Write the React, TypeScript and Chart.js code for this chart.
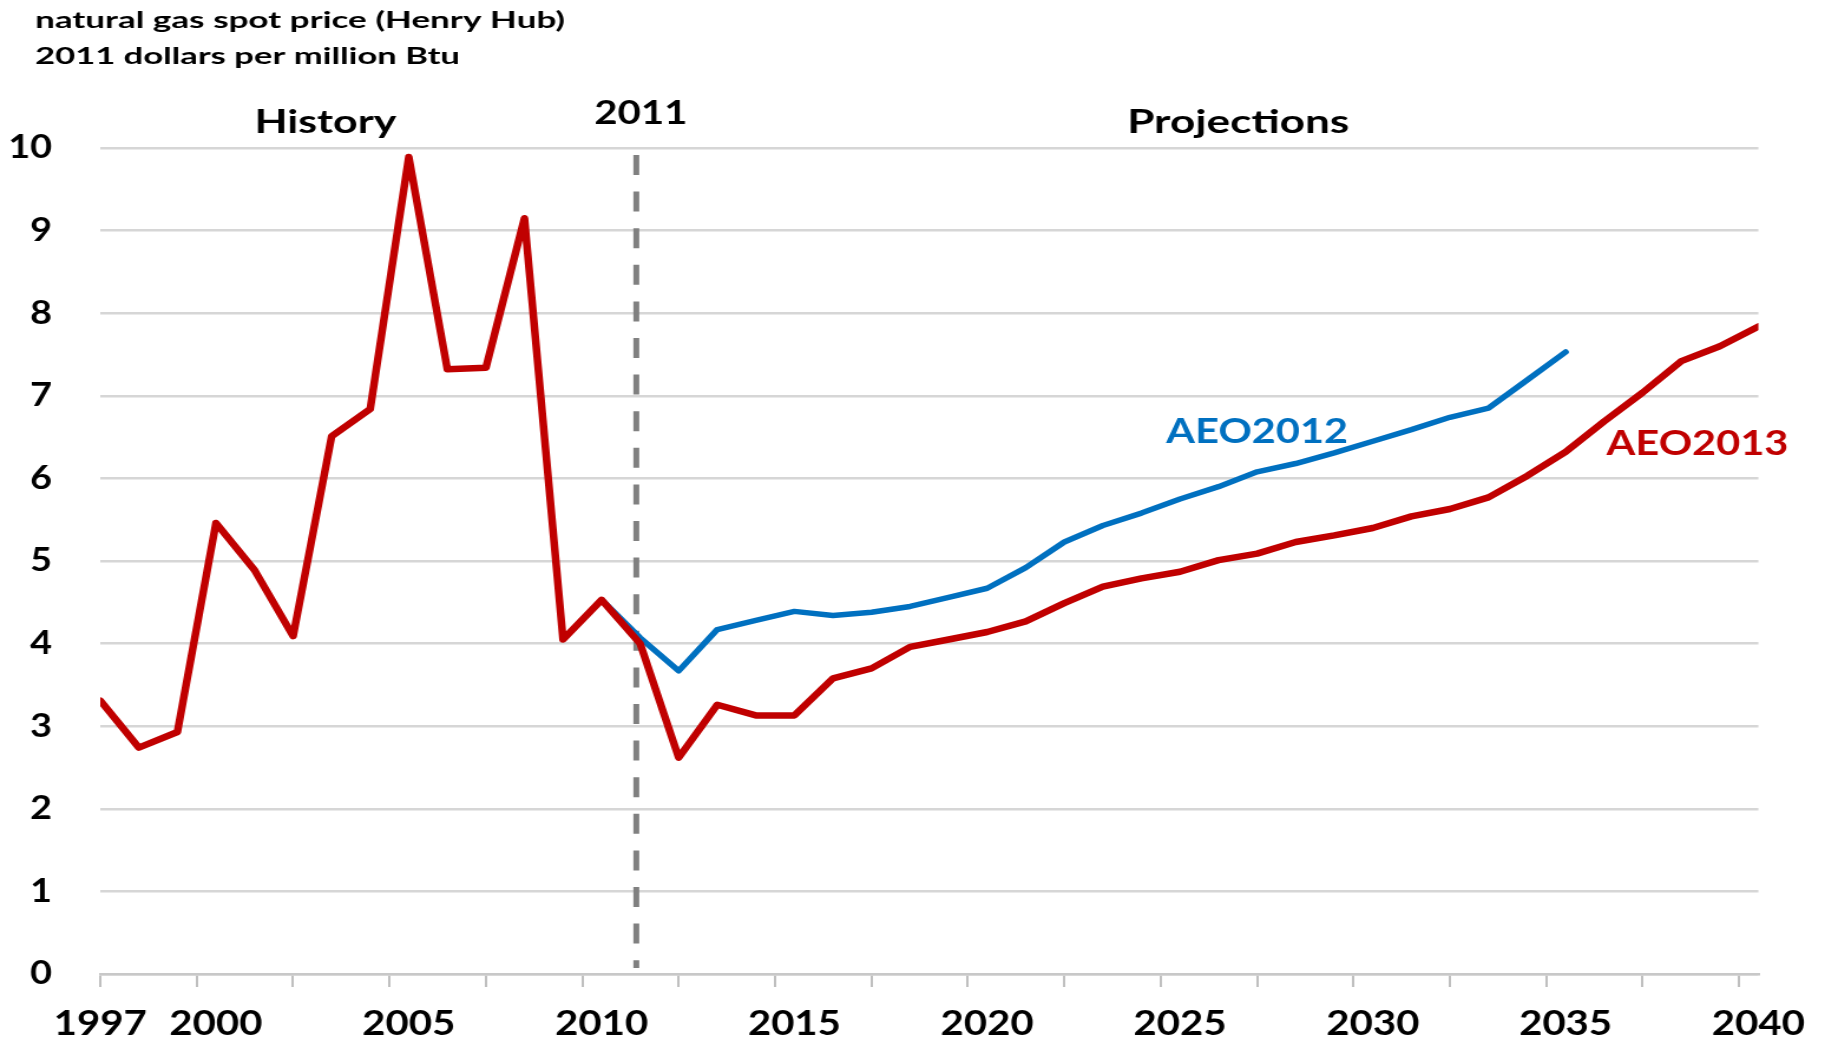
import React, { useEffect, useRef } from 'react';
import { Chart, registerables } from 'chart.js';

Chart.register(...registerables);

// ---- data ----
const aeo2013Years = [
  1997, 1998, 1999, 2000, 2001, 2002, 2003, 2004, 2005, 2006, 2007, 2008, 2009, 2010, 2011,
  2012, 2013, 2014, 2015, 2016, 2017, 2018, 2019, 2020, 2021, 2022, 2023, 2024, 2025, 2026,
  2027, 2028, 2029, 2030, 2031, 2032, 2033, 2034, 2035, 2036, 2037, 2038, 2039, 2040,
];
const aeo2013Values = [
  3.31, 2.74, 2.93, 5.46, 4.89, 4.09, 6.51, 6.84, 9.89, 7.32, 7.34, 9.15, 4.05, 4.53, 4.0,
  2.62, 3.26, 3.13, 3.13, 3.58, 3.7, 3.96, 4.05, 4.14, 4.27, 4.49, 4.69, 4.79, 4.87, 5.01,
  5.09, 5.23, 5.31, 5.4, 5.54, 5.63, 5.77, 6.03, 6.32, 6.69, 7.04, 7.42, 7.6, 7.84,
];
const aeo2012Years = [
  2010, 2011, 2012, 2013, 2014, 2015, 2016, 2017, 2018, 2019, 2020, 2021, 2022, 2023, 2024,
  2025, 2026, 2027, 2028, 2029, 2030, 2031, 2032, 2033, 2034, 2035,
];
const aeo2012Values = [
  4.53, 4.07, 3.67, 4.17, 4.28, 4.39, 4.34, 4.38, 4.45, 4.56, 4.67, 4.92, 5.23, 5.43, 5.58,
  5.75, 5.9, 6.08, 6.18, 6.31, 6.45, 6.59, 6.74, 6.85, 7.19, 7.53,
];
const xLabelYears = [1997, 2000, 2005, 2010, 2015, 2020, 2025, 2030, 2035, 2040];
const xTickMarkYears = [
  1997, 1999.5, 2002, 2004.5, 2007, 2009.5, 2012, 2014.5, 2017, 2019.5, 2022, 2024.5, 2027,
  2029.5, 2032, 2034.5, 2037, 2039.5,
];
const yTicks = [0, 1, 2, 3, 4, 5, 6, 7, 8, 9, 10];
const titleLines = ['natural gas spot price (Henry Hub)', '2011 dollars per million Btu'];
const dividerYear = 2010.9;
const dividerLabel = '2011';
const periodLabels = ['History', 'Projections'];
const seriesNames = ['AEO2013', 'AEO2012'];

const RED = '#C00000';
const BLUE = '#0070C0';
const FONT = 'Lato, "Open Sans", sans-serif';

const STRETCH = 1.18;
const FULL_W = 1825;
const FULL_H = 1042;
const W = Math.round(FULL_W / STRETCH);
const H = FULL_H;

// draw text scaled horizontally to a given width (width given in page pixels)
function drawFitted(
  ctx: CanvasRenderingContext2D,
  text: string,
  x: number,
  y: number,
  font: string,
  widthPage: number,
  align: CanvasTextAlign,
) {
  ctx.font = font;
  const w = ctx.measureText(text).width;
  const sx = widthPage / STRETCH / w;
  ctx.save();
  ctx.translate(x, y);
  ctx.scale(sx, 1);
  ctx.textAlign = align;
  ctx.textBaseline = 'alphabetic';
  ctx.fillText(text, 0, 0);
  ctx.restore();
}

const annotations = {
  id: 'annotations',
  beforeDatasetsDraw(chart: any) {
    const { ctx, scales } = chart;
    const px = scales.x.getPixelForValue(dividerYear);
    ctx.save();
    ctx.strokeStyle = '#808080';
    ctx.lineWidth = 5;
    ctx.setLineDash([20, 16.6]);
    ctx.beginPath();
    ctx.moveTo(px, 155);
    ctx.lineTo(px, 968);
    ctx.stroke();
    ctx.restore();
  },
  afterDatasetsDraw(chart: any) {
    const { ctx, scales } = chart;
    const x = scales.x;
    const y = scales.y;
    ctx.save();
    ctx.fillStyle = '#000';
    drawFitted(ctx, titleLines[0], 35 / STRETCH, 28, `bold 23px ${FONT}`, 530, 'left');
    drawFitted(ctx, titleLines[1], 35 / STRETCH, 64, `bold 23px ${FONT}`, 425, 'left');

    drawFitted(ctx, periodLabels[0], x.getPixelForValue(2002.84), 133, `bold 33px ${FONT}`, 142, 'center');
    drawFitted(ctx, periodLabels[1], x.getPixelForValue(2026.51), 133, `bold 33px ${FONT}`, 222, 'center');
    drawFitted(ctx, dividerLabel, x.getPixelForValue(2011.02), 123.5, `bold 33px ${FONT}`, 93, 'center');

    ctx.fillStyle = BLUE;
    drawFitted(ctx, seriesNames[1], x.getPixelForValue(2027.0), y.getPixelForValue(6.43), `bold 34px ${FONT}`, 182, 'center');
    ctx.fillStyle = RED;
    drawFitted(ctx, seriesNames[0], x.getPixelForValue(2038.42), y.getPixelForValue(6.28), `bold 34px ${FONT}`, 182, 'center');
    ctx.restore();
  },
};

export default function App() {
  const ref = useRef<HTMLCanvasElement | null>(null);

  useEffect(() => {
    if (!ref.current) return;
    const allTicks = Array.from(new Set([...xLabelYears, ...xTickMarkYears])).sort((a, b) => a - b);
    const chart = new Chart(ref.current, {
      type: 'line',
      data: {
        datasets: [
          {
            label: seriesNames[0],
            data: aeo2013Years.map((yr, i) => ({ x: yr, y: aeo2013Values[i] })),
            borderColor: RED,
            borderWidth: 6.5,
            pointRadius: 0,
            tension: 0,
            fill: false,
            borderJoinStyle: 'round',
            borderCapStyle: 'round',
          },
          {
            label: seriesNames[1],
            data: aeo2012Years.map((yr, i) => ({ x: yr, y: aeo2012Values[i] })),
            borderColor: BLUE,
            borderWidth: 5.5,
            pointRadius: 0,
            tension: 0,
            fill: false,
            borderJoinStyle: 'round',
            borderCapStyle: 'round',
          },
        ],
      },
      options: {
        animation: false,
        responsive: false,
        devicePixelRatio: 1,
        layout: { padding: { top: 148, right: 56, left: 0, bottom: 0 } },
        plugins: {
          legend: { display: false },
          tooltip: { enabled: false },
          title: { display: false },
        },
        scales: {
          x: {
            type: 'linear',
            min: 1997,
            max: 2040,
            afterBuildTicks: (scale: any) => {
              scale.ticks = allTicks.map((v) => ({ value: v }));
            },
            afterFit: (scale: any) => {
              scale.height = 68;
            },
            ticks: {
              autoSkip: false,
              maxRotation: 0,
              minRotation: 0,
              padding: 17,
              color: '#000',
              font: { family: FONT, size: 34, weight: 'bold' },
              callback: (v: any) => (xLabelYears.includes(Number(v)) ? String(v) : ''),
            },
            grid: {
              drawOnChartArea: false,
              drawTicks: true,
              tickLength: 13,
              lineWidth: 2,
              tickColor: (ctx: any) =>
                ctx.tick && xTickMarkYears.includes(ctx.tick.value) ? '#bfbfbf' : 'rgba(0,0,0,0)',
              color: 'rgba(0,0,0,0)',
            },
            border: { display: true, color: '#c8c8c8', width: 2.5 },
          },
          y: {
            min: 0,
            max: 10,
            afterBuildTicks: (scale: any) => {
              scale.ticks = yTicks.map((v) => ({ value: v }));
            },
            afterFit: (scale: any) => {
              scale.width = 85;
            },
            ticks: {
              padding: 41,
              color: '#000',
              font: { family: FONT, size: 32, weight: 'bold' },
            },
            grid: {
              drawTicks: false,
              color: '#d6d6d6',
              lineWidth: 2.5,
            },
            border: { display: false },
          },
        },
      },
      plugins: [annotations],
    } as any);
    return () => chart.destroy();
  }, []);

  return (
    <div style={{ position: 'fixed', left: 0, top: 0, width: FULL_W, height: FULL_H, background: '#fff' }}>
      <canvas
        ref={ref}
        width={W}
        height={H}
        style={{ width: `${FULL_W}px`, height: `${FULL_H}px`, display: 'block' }}
      />
    </div>
  );
}
